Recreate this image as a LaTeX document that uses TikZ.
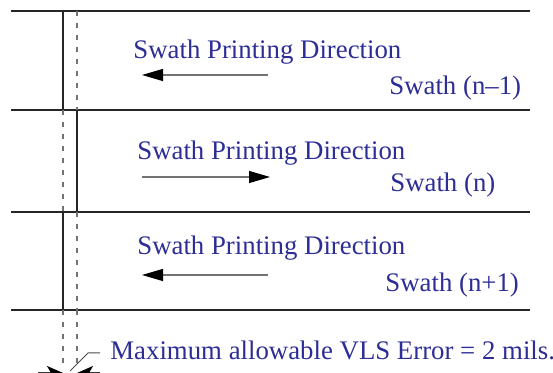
\documentclass[tikz,border=0pt]{standalone}
\usepackage{fontspec}
\newfontfamily\swathfont[Extension=.ttf]{LiberationSerif-Regular}
\usetikzlibrary{positioning,arrows.meta}
\definecolor{swathblue}{RGB}{45,45,150}

\begin{document}
\begin{tikzpicture}[
  x=0.5pt, y=-0.5pt,
  edge/.style={line width=1.1pt, black!85},
  vsolid/.style={line width=0.75pt, black!85},
  vdash/.style={line width=0.6pt, black!55, dash pattern=on 2.5pt off 3.5pt},
  txt/.style={anchor=base west, inner sep=0, text=swathblue,
              font=\swathfont\fontsize{13.4}{16}\selectfont},
  dir/.style={line width=0.6pt, black!55,
              -{Triangle[length=10.5pt, width=6pt, color=black]}},
  dim/.style={line width=0.6pt, black!80,
              -{Stealth[length=8pt, width=7pt, inset=2pt, color=black]}},
  lead/.style={line width=0.5pt, black!70}
]
\useasboundingbox (0,0) rectangle (553,373);

%% ── swath edges ─────────────────────────────────────────────────────────
\coordinate (e0w) at (11,11);  \coordinate (e0e) at (530,11);
\coordinate (e1w) at (11,110); \coordinate (e1e) at (530,110);
\coordinate (e2w) at (11,212); \coordinate (e2e) at (530,212);
\coordinate (e3w) at (11,310); \coordinate (e3e) at (530,310);

\foreach \i in {0,...,3}
  \draw[edge] (e\i w) -- (e\i e);

%% ── nodes ───────────────────────────────────────────────────────────────
\node[txt] (dir1) at (133,59)  {Swath Printing Direction};
\node[txt] (sw1)  at (389,95)  {Swath (n–1)};
\node[txt] (dir2) at (137,160) {Swath Printing Direction};
\node[txt] (sw2)  at (390,192) {Swath (n)};
\node[txt] (dir3) at (137,255) {Swath Printing Direction};
\node[txt] (sw3)  at (385,292) {Swath (n+1)};
\node[txt] (err)  at (110,360) {Maximum allowable VLS Error = 2 mils.};

%% ── vertical print lines ────────────────────────────────────────────────
% swath (n-1)
\draw[vsolid] (63,11)  -- (63,110);
\draw[vdash]  (77,11)  -- (77,110);
% swath (n)
\draw[vdash]  (63,110) -- (63,212);
\draw[vsolid] (77,110) -- (77,212);
% swath (n+1)
\draw[vsolid] (63,212) -- (63,310);
\draw[vdash]  (77,212) -- (77,310);
% extension below
\draw[vdash]  (63,310) -- (63,368);
\draw[vdash]  (77,310) -- (77,368);

%% ── direction arrows ────────────────────────────────────────────────────
\coordinate (a1s) at (268,75);  \coordinate (a1t) at (142,75);
\coordinate (a2s) at (142,177); \coordinate (a2t) at (270,177);
\coordinate (a3s) at (268,275); \coordinate (a3t) at (142,275);
\draw[dir] (a1s) -- (a1t);
\draw[dir] (a2s) -- (a2t);
\draw[dir] (a3s) -- (a3t);

%% ── error dimension ─────────────────────────────────────────────────────
\coordinate (dl) at (38,373);  \coordinate (dli) at (63,373);
\coordinate (dr) at (100,373); \coordinate (dri) at (77,373);
\coordinate (lk) at (88,353);  \coordinate (le) at (100,353);
\draw[dim] (dl) -- (dli);
\draw[dim] (dr) -- (dri);
\draw[lead] (70,371) -- (lk) -- (le);

\end{tikzpicture}
\end{document}
